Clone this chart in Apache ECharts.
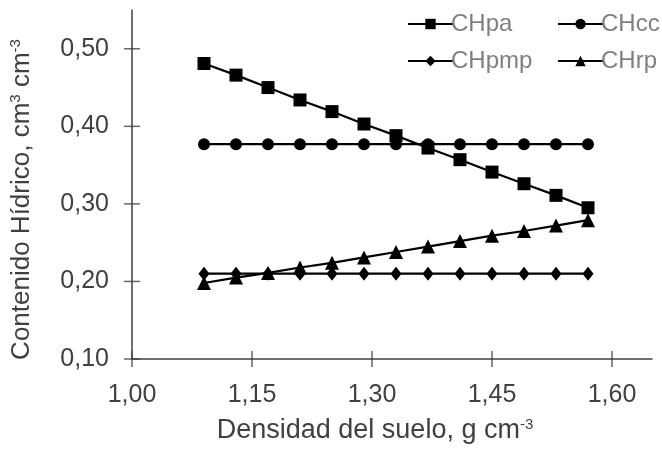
<!DOCTYPE html>
<html>
<head>
<meta charset="utf-8">
<script src="https://cdn.jsdelivr.net/npm/echarts@6/dist/echarts.min.js"></script>
<style>html,body{margin:0;padding:0;background:#fff}#c{width:662px;height:449px}</style>
</head>
<body>
<div id="c"></div>
<script>
var density = [1.09, 1.13, 1.17, 1.21, 1.25, 1.29, 1.33, 1.37, 1.41, 1.45, 1.49, 1.53, 1.57];
var CHpa  = [0.481, 0.466, 0.450, 0.434, 0.419, 0.403, 0.388, 0.372, 0.357, 0.341, 0.326, 0.311, 0.295];
var CHcc  = [0.377, 0.377, 0.377, 0.377, 0.377, 0.377, 0.377, 0.377, 0.377, 0.377, 0.377, 0.377, 0.377];
var CHpmp = [0.210, 0.210, 0.210, 0.210, 0.210, 0.210, 0.210, 0.210, 0.210, 0.210, 0.210, 0.210, 0.210];
var CHrp  = [0.198, 0.205, 0.211, 0.218, 0.224, 0.231, 0.238, 0.245, 0.252, 0.259, 0.265, 0.272, 0.279];
var xTicks = [1.00, 1.15, 1.30, 1.45, 1.60];
var yTicks = [0.10, 0.20, 0.30, 0.40, 0.50];

var FONT = "'Liberation Sans', Arial, sans-serif";
var AX = '#404040';
function fmt(v){ return v.toFixed(2).replace('.', ','); }
function pairs(xs, ys){ return xs.map(function(x,i){ return [x, ys[i]]; }); }
function lineSeries(name, ys, symbol, size){
  return { name: name, type: 'line', data: pairs(density, ys), symbol: symbol, symbolSize: size,
    showAllSymbol: true, lineStyle: { color: '#000', width: 2.2 }, itemStyle: { color: '#000' },
    emphasis: { disabled: true }, z: 3, animation: false };
}
var legendText = { color: '#7f7f7f', fontSize: 24, fontFamily: FONT, padding: [0,0,0,-7] };
var chart = echarts.init(document.getElementById('c'));
chart.setOption({
  animation: false,
  textStyle: { fontFamily: FONT },
  grid: { left: 131, right: 10, top: 10, bottom: 86, containLabel: false },
  legend: [{
    data: ['CHpa', 'CHpmp'], orient: 'vertical', left: 402, top: 7,
    itemWidth: 45, itemHeight: 13, itemGap: 13, textStyle: legendText
  }, {
    data: ['CHcc', 'CHrp'], orient: 'vertical', left: 552, top: 7,
    itemWidth: 45, itemHeight: 13, itemGap: 13, textStyle: legendText
  }],
  xAxis: {
    type: 'value', min: 1.00, max: 1.65, interval: 0.15,
    axisLine: { lineStyle: { color: AX, width: 1.5 } },
    axisTick: { show: false },
    splitLine: { show: false },
    axisLabel: { color: AX, fontSize: 25, margin: 24, showMaxLabel: false, formatter: fmt },
    name: '{n|Densidad del suelo, g cm}{s|-3}', nameLocation: 'middle', nameGap: 58,
    nameTextStyle: { padding: [0, 34, 0, 0], rich: {
      n: { fontSize: 27, color: AX, fontFamily: FONT },
      s: { fontSize: 15, color: AX, fontFamily: FONT, padding: [0, 0, 12, 0] } } }
  },
  yAxis: {
    type: 'value', min: 0.10, max: 0.55, interval: 0.10,
    axisLine: { show: true, lineStyle: { color: AX, width: 1.5 } },
    axisTick: { show: false },
    splitLine: { show: false },
    axisLabel: { color: AX, fontSize: 25, margin: 23, showMaxLabel: false, formatter: fmt },
    name: '{n|Contenido Hídrico, cm}{s|3}{n| cm}{s|-3}', nameLocation: 'middle', nameGap: 97,
    nameTextStyle: { padding: [0, 30, 0, 0], rich: {
      n: { fontSize: 26, color: AX, fontFamily: FONT },
      s: { fontSize: 15, color: AX, fontFamily: FONT, padding: [0, 0, 12, 0] } } }
  },
  series: [
    lineSeries('CHpa', CHpa, 'rect', 13),
    lineSeries('CHcc', CHcc, 'circle', 12),
    lineSeries('CHpmp', CHpmp, 'diamond', [11, 14]),
    lineSeries('CHrp', CHrp, 'triangle', 14),
    { name: 'xticks', type: 'scatter', data: xTicks.map(function(v){ return [v, yTicks[0]]; }),
      symbol: 'rect', symbolSize: [1.5, 16], itemStyle: { color: AX }, clip: false, silent: true, z: 1 },
    { name: 'yticks', type: 'scatter', data: yTicks.map(function(v){ return [xTicks[0], v]; }),
      symbol: 'rect', symbolSize: [16, 1.5], itemStyle: { color: AX }, clip: false, silent: true, z: 1 }
  ]
});
</script>
</body>
</html>
